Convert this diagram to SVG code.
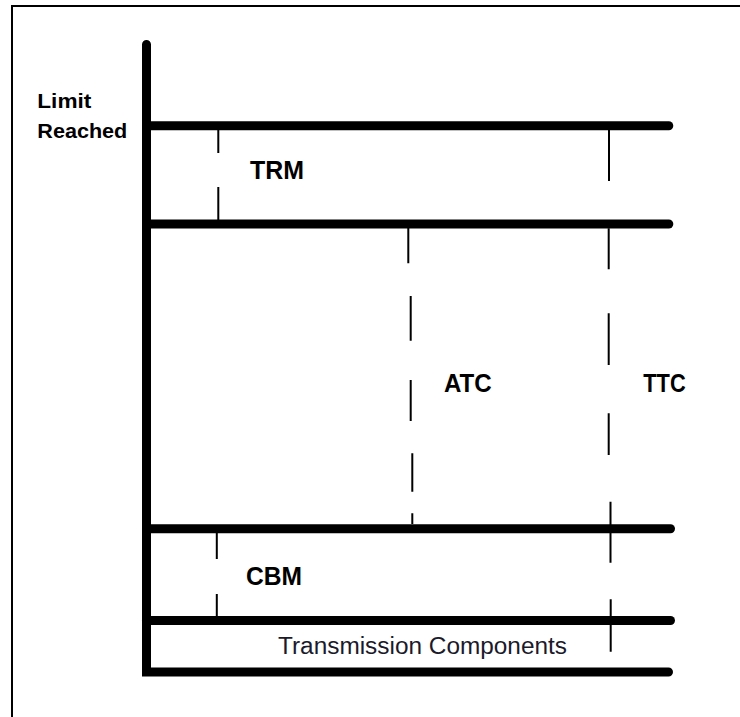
<svg xmlns="http://www.w3.org/2000/svg" width="740" height="717" viewBox="0 0 740 717">
  <style>
    .frame { fill: none; stroke: #000; stroke-width: 2; }
    .bar { fill: none; stroke: #000; stroke-width: 9; stroke-linecap: round; stroke-linejoin: miter; }
    .dash { fill: none; stroke: #000; stroke-width: 2; stroke-linecap: butt; }
    .lbl { font-family: "Liberation Sans", Arial, sans-serif; font-weight: bold; fill: #000; }
    .big { font-size: 25px; }
    .small { font-size: 21px; }
    .reg { font-family: "Liberation Sans", Arial, sans-serif; font-size: 23px; fill: #1a1a2a; }
  </style>
  <rect x="0" y="0" width="740" height="717" fill="#fff"/>
  <g id="frame">
    <path class="frame" d="M12,717 L12,6 L740,6"/>
  </g>
  <g id="connectors">
    <path class="bar" d="M146.5,44.5 L146.5,672 L668.5,672"/>
    <path class="bar" d="M146.5,125.7 L668.8,125.7"/>
    <path class="bar" d="M146.5,224 L668.8,224"/>
    <path class="bar" d="M146.5,528.7 L670.5,528.7"/>
    <path class="bar" d="M146.5,620.5 L670.5,620.5"/>
    <path id="trm-dash" class="dash" d="M218.3,130 L218.3,153 M218.3,187 L218.3,220"/>
    <path id="cbm-dash" class="dash" d="M216.8,533 L216.8,559 M216.8,594 L216.8,616"/>
    <path id="atc-dash" class="dash" d="M408.3,228 L408.3,263.3 M410.7,296 L410.7,340.7 M410.7,380 L410.7,421 M412.3,453.3 L412.3,491.7 M412.3,513.3 L412.3,524"/>
    <path id="ttc-dash" class="dash" d="M609,130 L609,181 M608.7,228.3 L608.7,269.3 M608.7,313.3 L608.7,365 M608.7,413.3 L608.7,455 M610.5,501.7 L610.5,562.7 M610.7,599.3 L610.7,651.7"/>
  </g>
  <g id="limit-reached">
    <text class="lbl small" x="37.3" y="108.3" textLength="54" lengthAdjust="spacingAndGlyphs">Limit</text>
    <text class="lbl small" x="37.3" y="138.3" textLength="90" lengthAdjust="spacingAndGlyphs">Reached</text>
  </g>
  <g id="trm">
    <text class="lbl big" x="250" y="179" textLength="54" lengthAdjust="spacingAndGlyphs">TRM</text>
  </g>
  <g id="atc">
    <text class="lbl big" x="444" y="391.7" textLength="47.7" lengthAdjust="spacingAndGlyphs">ATC</text>
  </g>
  <g id="ttc">
    <text class="lbl big" x="643.3" y="391.7" textLength="42.4" lengthAdjust="spacingAndGlyphs">TTC</text>
  </g>
  <g id="cbm">
    <text class="lbl big" x="246" y="585" textLength="56" lengthAdjust="spacingAndGlyphs">CBM</text>
  </g>
  <g id="transmission-components">
    <text class="reg" x="278" y="654.3" textLength="289" lengthAdjust="spacingAndGlyphs">Transmission Components</text>
  </g>
</svg>
